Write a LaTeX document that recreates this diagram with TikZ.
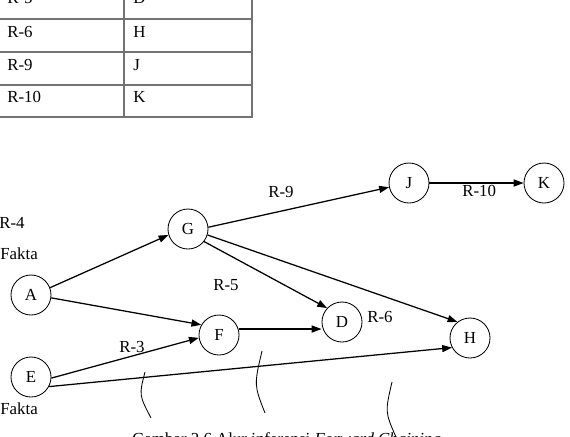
\documentclass[tikz,border=0pt]{standalone}
\usepackage{fontspec}
\setmainfont{Liberation Serif}
\usetikzlibrary{arrows.meta}
\begin{document}
\begin{tikzpicture}[x=0.025cm,y=-0.025cm,
  every node/.style={font=\fontsize{12}{14}\selectfont},
  state/.style={draw,circle,line width=0.6pt,minimum size=1cm,inner sep=0pt},
  arr/.style={line width=0.9pt,-{Triangle[length=7pt,width=5pt]}},
  tline/.style={draw=black!55,line width=1pt},
  lbl/.style={anchor=base west,inner sep=0pt},
  brace/.style={line width=0.6pt}]
\useasboundingbox (0,0) rectangle (570,436);
\clip (0,0) rectangle (570,436);
% table
\draw[tline] (0,19) -- (252,19);
\draw[tline] (0,52) -- (252,52);
\draw[tline] (0,85) -- (252,85);
\draw[tline,line width=1.4pt] (0,117) -- (252.5,117);
\draw[tline] (124,-2) -- (124,117);
\draw[tline,line width=1.4pt] (252,-2) -- (252,117.5);
\node[lbl] (t5a) at (7,3) {R-5};
\node[lbl] (t5b) at (133,3) {D};
\node[lbl] (t6a) at (7,37) {R-6};
\node[lbl] (t6b) at (133,37) {H};
\node[lbl] (t9a) at (7,70) {R-9};
\node[lbl] (t9b) at (133,70) {J};
\node[lbl] (t10a) at (7,102) {R-10};
\node[lbl] (t10b) at (133,102) {K};
% nodes
\node[state] (A) at (31,295) {A};
\node[state] (E) at (31,377) {E};
\node[state] (G) at (188,229) {G};
\node[state] (F) at (219,335) {F};
\node[state] (D) at (342,322) {D};
\node[state] (H) at (470,338) {H};
\node[state] (J) at (409,183) {J};
\node[state] (K) at (544,183) {K};
% edges
\draw[arr] (A.21) -- (G.197);
\draw[arr] (A.-8) -- (F.150);
\draw[arr] (E.-3) -- (F.188);
\draw[arr] (E.-28) -- (H.208);
\draw[arr] (G.5) -- (J.192);
\draw[arr] (G.-17) -- (H.128);
\draw[arr] (G.-38) -- (D.137);
\draw[arr] (F.17) -- (D.west |- F.17);
\draw[arr] (J.east) -- (K.west);
% labels
\node[lbl] (r4) at (-1,228) {R-4};
\node[lbl] (f1) at (0,259) {Fakta};
\node[lbl] (f2) at (0,414) {Fakta};
\node[lbl] (r5) at (213,290) {R-5};
\node[lbl] (r3) at (119,352) {R-3};
\node[lbl] (r9) at (268,197) {R-9};
\node[lbl] (r10) at (462,196) {R-10};
\node[lbl] (r6) at (367,322) {R-6};
% curves
\draw[brace] (145,372) .. controls (139,395) .. (151,418);
\draw[brace] (262,351) .. controls (254,385) .. (265,413);
\draw[brace] (392,382) .. controls (385,412) .. (396,437);
% caption
\node[lbl] (cap) at (132,444) {Gambar 2.6 Alur inferensi \textit{Forward Chaining}};
\end{tikzpicture}
\end{document}
